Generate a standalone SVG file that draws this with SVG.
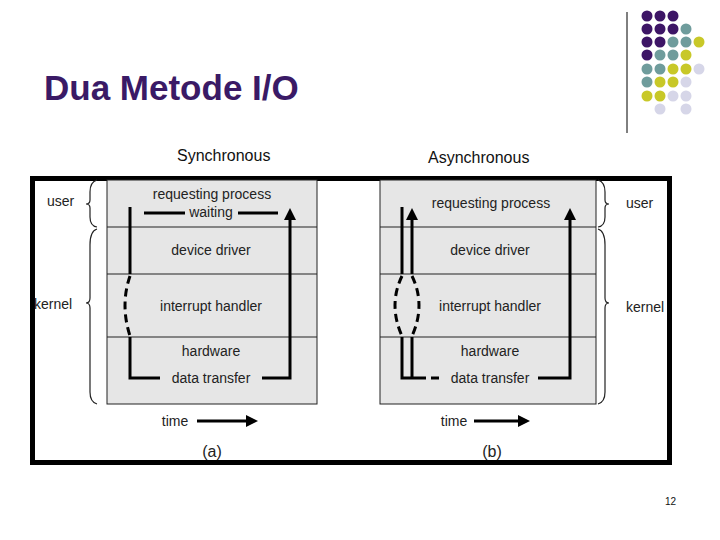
<svg xmlns="http://www.w3.org/2000/svg" width="720" height="540" viewBox="0 0 720 540">
<style>
text{font-family:"Liberation Sans",Arial,sans-serif}
.l{font-size:14px;fill:#222;text-anchor:middle}
.s{font-size:14px;fill:#222}
.ln{stroke:#000;stroke-width:3;fill:none}
.d{stroke:#000;stroke-width:3;fill:none;stroke-dasharray:8,5}
.g{fill:#e6e6e6;stroke:#222;stroke-width:1}
.br{stroke:#222;stroke-width:1.2;fill:none}
.P{fill:#3d1566}.T{fill:#6f9c9c}.Y{fill:#c8c828}.L{fill:#d6d6e8}
</style>
<defs><marker id="a" markerWidth="4" markerHeight="4" refX="2" refY="2" orient="auto"><path d="M0,0L4,2L0,4z" fill="#000"/></marker></defs>
<rect width="720" height="540" fill="#fff"/>
<g id="deco">
<line x1="627" y1="12" x2="627" y2="133" stroke="#000"/>
<circle class="P" cx="647" cy="16" r="5.5"/><circle class="P" cx="660" cy="16" r="5.5"/><circle class="P" cx="673" cy="16" r="5.5"/>
<circle class="P" cx="647" cy="29" r="5.5"/><circle class="P" cx="660" cy="29" r="5.5"/><circle class="P" cx="673" cy="29" r="5.5"/><circle class="T" cx="686" cy="29" r="5.5"/>
<circle class="P" cx="647" cy="42" r="5.5"/><circle class="P" cx="660" cy="42" r="5.5"/><circle class="T" cx="673" cy="42" r="5.5"/><circle class="T" cx="686" cy="42" r="5.5"/><circle class="Y" cx="699" cy="42" r="5.5"/>
<circle class="P" cx="647" cy="55" r="5.5"/><circle class="T" cx="660" cy="55" r="5.5"/><circle class="T" cx="673" cy="55" r="5.5"/><circle class="Y" cx="686" cy="55" r="5.5"/>
<circle class="T" cx="647" cy="69" r="5.5"/><circle class="T" cx="660" cy="69" r="5.5"/><circle class="Y" cx="673" cy="69" r="5.5"/><circle class="Y" cx="686" cy="69" r="5.5"/><circle class="L" cx="699" cy="69" r="5.5"/>
<circle class="T" cx="647" cy="82" r="5.5"/><circle class="Y" cx="660" cy="82" r="5.5"/><circle class="Y" cx="673" cy="82" r="5.5"/><circle class="L" cx="686" cy="82" r="5.5"/>
<circle class="Y" cx="647" cy="96" r="5.5"/><circle class="Y" cx="660" cy="96" r="5.5"/><circle class="L" cx="673" cy="96" r="5.5"/><circle class="L" cx="686" cy="96" r="5.5"/>
<circle class="L" cx="660" cy="109" r="5.5"/><circle class="L" cx="686" cy="109" r="5.5"/>
</g>
<text x="44" y="100" font-size="35" font-weight="bold" fill="#3a1a66">Dua Metode I/O</text>
<text x="177" y="161" font-size="16" fill="#111">Synchronous</text>
<text x="428" y="163" font-size="16" fill="#111">Asynchronous</text>
<text x="665" y="505" font-size="10" fill="#111">12</text>
<rect x="32.5" y="178.5" width="637" height="284" fill="#fff" stroke="#000" stroke-width="5"/>
<g id="panelA">
<rect class="g" x="107" y="180" width="210" height="224"/>
<line x1="107" y1="227" x2="317" y2="227" stroke="#222"/><line x1="107" y1="274" x2="317" y2="274" stroke="#222"/><line x1="107" y1="337" x2="317" y2="337" stroke="#222"/>
<text class="l" x="212" y="199">requesting process</text>
<text class="l" x="211" y="217">waiting</text>
<text class="l" x="211" y="255">device driver</text>
<text class="l" x="211" y="311">interrupt handler</text>
<text class="l" x="211" y="356">hardware</text>
<text class="l" x="211" y="383">data transfer</text>
<path class="br" d="M97,180 Q90,182 90,192 L90,200 Q90,204 86,204 Q90,204 90,208 L90,217 Q90,226 97,227"/>
<path class="br" d="M97,229 Q90,231 90,245 L90,298 Q90,303 86,303 Q90,303 90,308 L90,392 Q90,402 97,404"/>
<text class="s" x="47" y="206">user</text>
<text class="s" x="34" y="309">kernel</text>
<text class="l" x="175" y="426">time</text>
<text x="212" y="457" font-size="16" text-anchor="middle" font-family="Liberation Serif,serif" fill="#222">(a)</text>
</g>
<g id="panelB">
<rect class="g" x="380" y="180" width="216" height="224"/>
<line x1="380" y1="227" x2="596" y2="227" stroke="#222"/><line x1="380" y1="274" x2="596" y2="274" stroke="#222"/><line x1="380" y1="337" x2="596" y2="337" stroke="#222"/>
<text class="l" x="491" y="208">requesting process</text>
<text class="l" x="490" y="255">device driver</text>
<text class="l" x="490" y="311">interrupt handler</text>
<text class="l" x="490" y="356">hardware</text>
<text class="l" x="490" y="383">data transfer</text>
<path class="br" d="M598,180 Q605,182 605,192 L605,200 Q605,204 609,204 Q605,204 605,208 L605,217 Q605,226 598,227"/>
<path class="br" d="M598,229 Q605,231 605,245 L605,298 Q605,303 609,303 Q605,303 605,308 L605,392 Q605,402 598,404"/>
<text class="s" x="626" y="208">user</text>
<text class="s" x="626" y="312">kernel</text>
<text class="l" x="454" y="426">time</text>
<text x="492" y="457" font-size="16" text-anchor="middle" font-family="Liberation Serif,serif" fill="#222">(b)</text>
</g>
<g id="connectors">
<path class="ln" d="M144,213H185M238,213H278"/>
<path class="ln" d="M130,207V274"/>
<path class="d" d="M130,276 Q120,305 130,336"/>
<path class="ln" d="M130,337V378H160"/>
<path class="ln" d="M262,378H290V214" marker-end="url(#a)"/>
<path class="ln" d="M197,421H252" marker-end="url(#a)"/>
<path class="ln" d="M402,207V274"/>
<path class="ln" d="M412,274V214" marker-end="url(#a)"/>
<path class="d" d="M402,276 Q388,305 402,336M412,276 Q426,305 412,336"/>
<path class="ln" d="M402,337V378H418M412,337V378"/>
<path class="d" d="M418,378H442"/>
<path class="ln" d="M538,378H570V214" marker-end="url(#a)"/>
<path class="ln" d="M474,421H524" marker-end="url(#a)"/>
</g>
</svg>
